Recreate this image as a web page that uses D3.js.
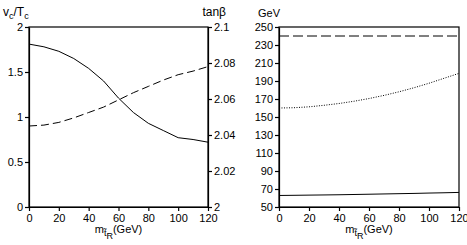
<!DOCTYPE html>
<html>
<head>
<meta charset="utf-8">
<script src="https://cdn.jsdelivr.net/npm/d3@7"></script>
<style>
  body { margin: 0; background: #fff; }
  svg { display: block; font-family: "Liberation Sans", Arial, sans-serif; }
  .axis path, .axis line { stroke: #000; stroke-width: 1.2; }
  .axis text { font-size: 11px; fill: #000; }
</style>
</head>
<body>
<div id="chart"></div>
<script>
// stop mass (GeV)
const masses = [0, 10, 20, 30, 40, 50, 60, 70, 80, 90, 100, 110, 120];
// left panel
const vcOverTc = [1.81, 1.78, 1.73, 1.65, 1.54, 1.40, 1.21, 1.05, 0.93, 0.85, 0.77, 0.75, 0.72];
const tanBeta = [2.045, 2.0455, 2.047, 2.0495, 2.0525, 2.0555, 2.0595, 2.0635, 2.067, 2.0705, 2.0735, 2.0755, 2.078];
// right panel (GeV)
const tempC = [240, 240, 240, 240, 240, 240, 240, 240, 240, 240, 240, 240, 240];
const higgsMass = [160, 160.3, 161.3, 163, 165, 167.5, 170.5, 174, 178, 182.5, 187.5, 193, 198.5];
const lowMass = [62.8, 63, 63.2, 63.4, 63.6, 63.9, 64.2, 64.5, 64.8, 65.1, 65.5, 65.8, 66.2];

const xTicks = [0, 20, 40, 60, 80, 100, 120];
const leftTicks = [0, 0.5, 1, 1.5, 2];
const tanTicks = [2, 2.02, 2.04, 2.06, 2.08, 2.1];
const gevTicks = [50, 70, 90, 110, 130, 150, 170, 190, 210, 230, 250];

const W = 467, H = 245;
const yTop = 27, yBot = 207;

const svg = d3.select("#chart").append("svg")
  .attr("width", W).attr("height", H);

function xLabel(g, cx) {
  const t = g.append("text")
    .attr("x", cx).attr("y", 233)
    .attr("text-anchor", "middle")
    .attr("font-size", 11);
  t.append("tspan").text("m");
  t.append("tspan").attr("font-size", 9).attr("dy", 3).text("t\u0303");
  t.append("tspan").attr("font-size", 9).attr("dy", 3).text("R");
  t.append("tspan").attr("dy", -6).text("(GeV)");
}

// ---------- left panel ----------
const x1 = d3.scaleLinear().domain([0, 120]).range([29, 208]);
const yL = d3.scaleLinear().domain([0, 2]).range([yBot, yTop]);
const yT = d3.scaleLinear().domain([2, 2.1]).range([yBot, yTop]);

svg.append("rect")
  .attr("x", x1(0)).attr("y", yTop)
  .attr("width", x1(120) - x1(0)).attr("height", yBot - yTop)
  .attr("fill", "none").attr("stroke", "#000").attr("stroke-width", 1.2);

svg.append("g").attr("class", "axis")
  .attr("transform", `translate(0,${yBot})`)
  .call(d3.axisBottom(x1).tickValues(xTicks).tickSize(4).tickPadding(3).tickSizeOuter(0));
svg.append("g").attr("class", "axis")
  .attr("transform", `translate(${x1(0)},0)`)
  .call(d3.axisLeft(yL).tickValues(leftTicks).tickFormat(d3.format("")).tickSize(4).tickPadding(2).tickSizeOuter(0));
svg.append("g").attr("class", "axis")
  .attr("transform", `translate(${x1(120)},0)`)
  .call(d3.axisRight(yT).tickValues(tanTicks).tickFormat(d => d === 2 ? "2" : d3.format(".2f")(d).replace(/0$/, "")).tickSize(4).tickPadding(2).tickSizeOuter(0));

const lineL = d3.line().x((d, i) => x1(masses[i])).y(d => yL(d));
const lineT = d3.line().x((d, i) => x1(masses[i])).y(d => yT(d));

svg.append("path").datum(vcOverTc)
  .attr("d", lineL).attr("fill", "none").attr("stroke", "#000").attr("stroke-width", 1);
svg.append("path").datum(tanBeta)
  .attr("d", lineT).attr("fill", "none").attr("stroke", "#000").attr("stroke-width", 1)
  .attr("stroke-dasharray", "8,4");

const vt = svg.append("text").attr("x", 3).attr("y", 16).attr("font-size", 12);
vt.append("tspan").text("v");
vt.append("tspan").attr("font-size", 9).attr("dy", 3).text("c");
vt.append("tspan").attr("dy", -3).text("/T");
vt.append("tspan").attr("font-size", 9).attr("dy", 3).text("c");

svg.append("text").attr("x", 226).attr("y", 16).attr("text-anchor", "end")
  .attr("font-size", 12).text("tan\u03b2");

xLabel(svg, x1(60));

// ---------- right panel ----------
const x2 = d3.scaleLinear().domain([0, 120]).range([279, 459]);
const yG = d3.scaleLinear().domain([50, 250]).range([yBot, yTop]);

svg.append("rect")
  .attr("x", x2(0)).attr("y", yTop)
  .attr("width", x2(120) - x2(0)).attr("height", yBot - yTop)
  .attr("fill", "none").attr("stroke", "#000").attr("stroke-width", 1.2);

svg.append("g").attr("class", "axis")
  .attr("transform", `translate(0,${yBot})`)
  .call(d3.axisBottom(x2).tickValues(xTicks).tickSize(4).tickPadding(3).tickSizeOuter(0));
svg.append("g").attr("class", "axis")
  .attr("transform", `translate(${x2(0)},0)`)
  .call(d3.axisLeft(yG).tickValues(gevTicks).tickSize(4).tickPadding(2).tickSizeOuter(0));

const lineG = d3.line().x((d, i) => x2(masses[i])).y(d => yG(d));

svg.append("path").datum(tempC)
  .attr("d", lineG).attr("fill", "none").attr("stroke", "#000").attr("stroke-width", 1)
  .attr("stroke-dasharray", "10,4");
svg.append("path").datum(higgsMass)
  .attr("d", lineG).attr("fill", "none").attr("stroke", "#000").attr("stroke-width", 1)
  .attr("stroke-dasharray", "1,1.5");
svg.append("path").datum(lowMass)
  .attr("d", lineG).attr("fill", "none").attr("stroke", "#000").attr("stroke-width", 1);

svg.append("text").attr("x", 258).attr("y", 17).attr("font-size", 11).text("GeV");

xLabel(svg, x2(60));
</script>
</body>
</html>
